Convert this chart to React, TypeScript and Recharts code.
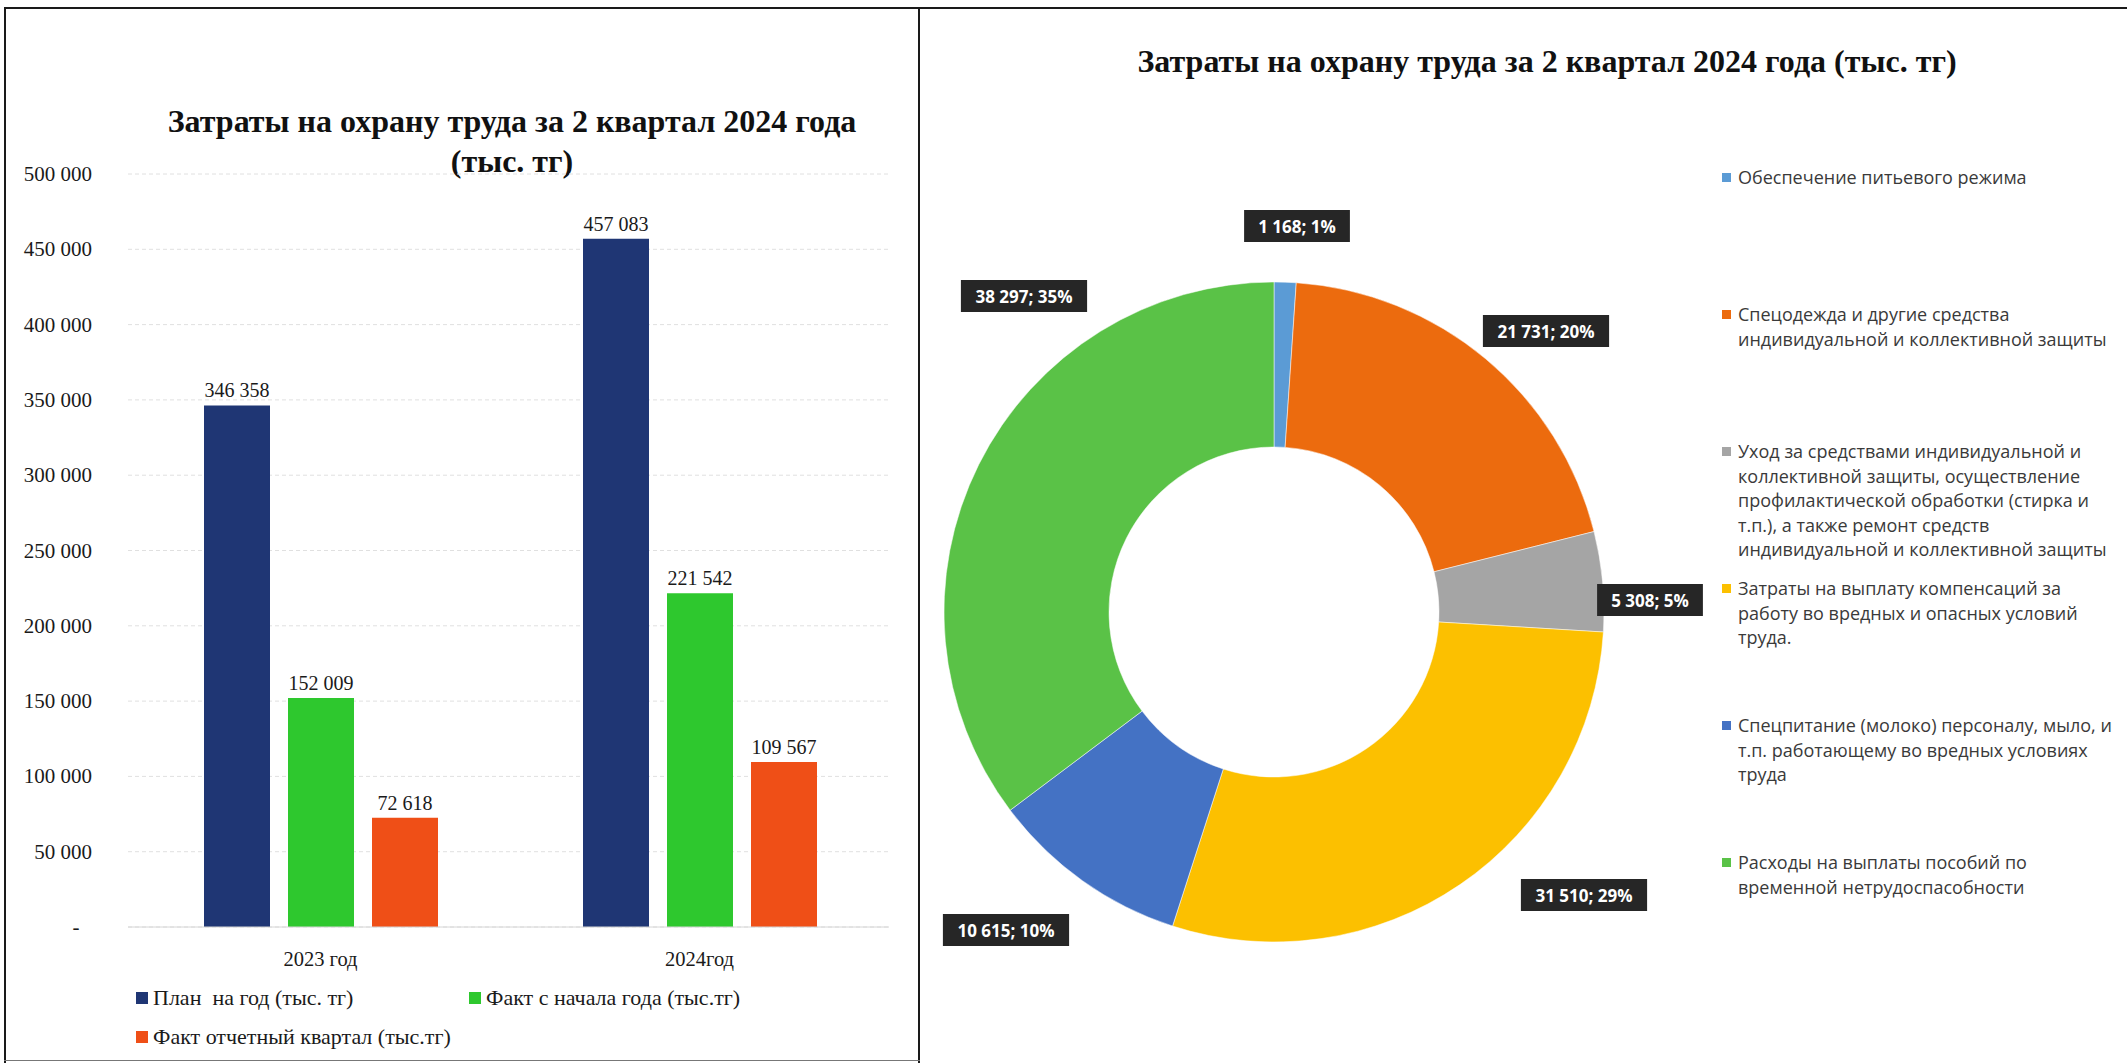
import React from "react";
import { Bar, BarChart, CartesianGrid, Cell, LabelList, Pie, PieChart, XAxis, YAxis } from "recharts";

// left chart: plan vs fact by year
const years = ["2023 год", "2024год"];
const planYear = [346358, 457083];
const factFromStart = [152009, 221542];
const factQuarter = [72618, 109567];
const yTicks = [0, 50000, 100000, 150000, 200000, 250000, 300000, 350000, 400000, 450000, 500000];

const barSeries = [
  { key: "plan", name: "План  на год (тыс. тг)", color: "#1f3674" },
  { key: "ytd", name: "Факт с начала года (тыс.тг)", color: "#2ec82e" },
  { key: "quarter", name: "Факт отчетный квартал (тыс.тг)", color: "#ef4f17" },
];

// right chart: cost structure
const costNames = [
  "Обеспечение питьевого режима",
  "Спецодежда и другие средства\nиндивидуальной и коллективной защиты",
  "Уход за средствами индивидуальной и\nколлективной защиты, осуществление\nпрофилактической обработки (стирка и\nт.п.), а также ремонт средств\nиндивидуальной и коллективной защиты",
  "Затраты на выплату компенсаций за\nработу во вредных и опасных условий\nтруда.",
  "Спецпитание (молоко) персоналу, мыло, и\nт.п. работающему во вредных условиях\nтруда",
  "Расходы на выплаты пособий по\nвременной нетрудоспасобности",
];
const costValues = [1168, 21731, 5308, 31510, 10615, 38297];
const costColors = ["#5b9bd5", "#ec6b0e", "#a5a5a5", "#fcc000", "#4472c4", "#5ac247"];

// where Excel put each data label, relative to the doughnut centre
const labelSpots = [
  [23, -386],
  [272, -281],
  [376, -12],
  [310, 283],
  [-268, 318],
  [-250, -316],
];

const barData = years.map((year, i) => ({
  year,
  plan: planYear[i],
  ytd: factFromStart[i],
  quarter: factQuarter[i],
}));
const pieData = costNames.map((name, i) => ({ name, value: costValues[i] }));

const fmt = (v: number) => String(v).replace(/\B(?=(\d{3})+(?!\d))/g, " ");

const SERIF = "'Liberation Serif', 'Times New Roman', serif";
const SANS = "'Open Sans', 'Noto Sans', sans-serif";

function YTick({ y, payload }: any) {
  if (payload.value === 0) {
    return (
      <text x={76} y={y} textAnchor="middle" dominantBaseline="central" fontFamily={SERIF} fontSize={21} fill="#1a1a1a">
        -
      </text>
    );
  }
  return (
    <text x={92} y={y} textAnchor="end" dominantBaseline="central" fontFamily={SERIF} fontSize={21} fill="#1a1a1a">
      {fmt(payload.value)}
    </text>
  );
}

function XTick({ x, payload }: any) {
  return (
    <text x={x} y={959} textAnchor="middle" dominantBaseline="central" fontFamily={SERIF} fontSize={20.5} fill="#1a1a1a">
      {payload.value}
    </text>
  );
}

function BarValue(props: any) {
  const { x, y, width, value } = props;
  return (
    <text x={x + width / 2} y={y - 8} textAnchor="middle" fontFamily={SERIF} fontSize={20} fill="#1a1a1a">
      {fmt(value)}
    </text>
  );
}

function renderCostLabel(props: any) {
  const { cx, cy, index, value, percent } = props;
  const [dx, dy] = labelSpots[index];
  const text = `${fmt(value)}; ${Math.round(percent * 100)}%`;
  const w = text.length * 10.2 + 14;
  return (
    <g>
      <rect x={cx + dx - w / 2} y={cy + dy - 16} width={w} height={32} fill="#262626" />
      <text
        x={cx + dx}
        y={cy + dy}
        textAnchor="middle"
        dominantBaseline="central"
        fill="#ffffff"
        fontFamily={SANS}
        fontWeight={700}
        fontSize={17}
      >
        {text}
      </text>
    </g>
  );
}

function Rule({ style }: { style: React.CSSProperties }) {
  return <div style={{ position: "absolute", background: "#1a1a1a", ...style }} />;
}

export default function App() {
  return (
    <div style={{ position: "absolute", left: 0, top: 0, width: 2127, height: 1063, background: "#fff", overflow: "hidden" }}>
      {/* frame of the scanned page */}
      <Rule style={{ left: 4, top: 7, width: 2123, height: 2 }} />
      <Rule style={{ left: 4, top: 7, width: 2, height: 1056 }} />
      <Rule style={{ left: 918, top: 7, width: 2, height: 1056 }} />
      <Rule style={{ left: 4, top: 1060, width: 916, height: 1, background: "#777" }} />

      {/* left: bar chart */}
      <div
        style={{
          position: "absolute",
          left: 112,
          top: 101,
          width: 800,
          textAlign: "center",
          fontFamily: SERIF,
          fontWeight: 700,
          fontSize: 32,
          lineHeight: "40px",
          color: "#111",
        }}
      >
        Затраты на охрану труда за 2 квартал 2024 года
        <br />
        (тыс. тг)
      </div>
      <div style={{ position: "absolute", left: 0, top: 0 }}>
        <BarChart width={918} height={1000} data={barData} margin={{ top: 174, right: 29, left: 0, bottom: 23 }} barSize={66} barGap={18}>
          <CartesianGrid vertical={false} stroke="#e0e0e0" strokeDasharray="4 3" />
          <XAxis
            dataKey="year"
            padding={{ left: 3, right: 0 }}
            axisLine={{ stroke: "#d6d6d6" }}
            tickLine={false}
            height={50}
            tick={<XTick />}
          />
          <YAxis domain={[0, 500000]} ticks={yTicks} interval={0} axisLine={false} tickLine={false} width={128} tick={<YTick />} />
          {barSeries.map((s) => (
            <Bar key={s.key} dataKey={s.key} fill={s.color} isAnimationActive={false}>
              <LabelList dataKey={s.key} content={<BarValue />} />
            </Bar>
          ))}
        </BarChart>
      </div>
      <div style={{ position: "absolute", left: 136, top: 984, width: 700, fontFamily: SERIF, fontSize: 22, color: "#1a1a1a" }}>
        <div style={{ display: "flex", flexWrap: "wrap", rowGap: 11 }}>
          {barSeries.map((s, i) => (
            <div key={s.key} style={{ display: "flex", alignItems: "center", width: i === 0 ? 333 : 360, height: 28, whiteSpace: "pre" }}>
              <span style={{ width: 12, height: 12, background: s.color, marginRight: 5, display: "inline-block", flex: "none" }} />
              {s.name}
            </div>
          ))}
        </div>
      </div>

      {/* right: doughnut */}
      <div
        style={{
          position: "absolute",
          left: 1047,
          top: 41,
          width: 1000,
          textAlign: "center",
          fontFamily: SERIF,
          fontWeight: 700,
          fontSize: 32,
          lineHeight: "40px",
          color: "#111",
        }}
      >
        Затраты на охрану труда за 2 квартал 2024 года (тыс. тг)
      </div>
      <div style={{ position: "absolute", left: 920, top: 180 }}>
        <PieChart width={800} height={840} margin={{ top: 0, right: 0, bottom: 0, left: 0 }}>
          <Pie
            data={pieData}
            dataKey="value"
            nameKey="name"
            cx={354}
            cy={432}
            outerRadius={330}
            innerRadius={165}
            startAngle={90}
            endAngle={-270}
            stroke="#ffffff"
            strokeWidth={0.5}
            label={renderCostLabel}
            labelLine={false}
            isAnimationActive={false}
          >
            {pieData.map((d, i) => (
              <Cell key={d.name} fill={costColors[i]} />
            ))}
          </Pie>
        </PieChart>
      </div>
      <div style={{ position: "absolute", left: 1722, top: 165, width: 405, fontFamily: SANS, fontSize: 18, lineHeight: "24.5px", color: "#3a3a3a" }}>
        {costNames.map((name, i) => (
          <div key={i} style={{ height: 137, display: "flex", alignItems: "flex-start" }}>
            <span style={{ width: 9, height: 9, background: costColors[i], marginTop: 8, marginRight: 7, flex: "none" }} />
            <span style={{ whiteSpace: "pre-line" }}>{name}</span>
          </div>
        ))}
      </div>
    </div>
  );
}
